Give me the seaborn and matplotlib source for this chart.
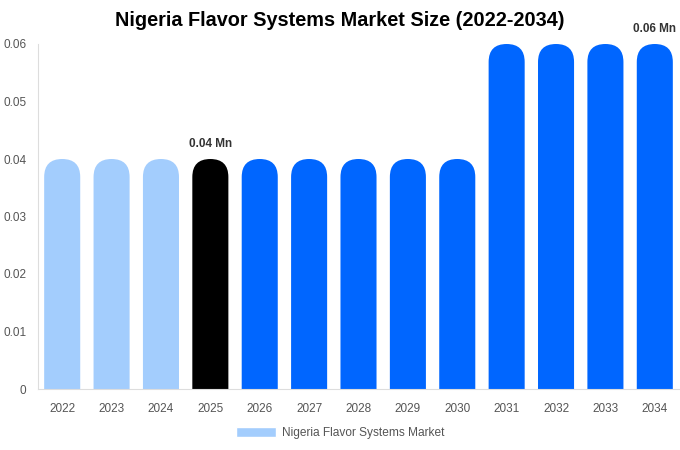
import matplotlib
matplotlib.use('Agg')
import matplotlib.pyplot as plt
import seaborn as sns
import pandas as pd
from matplotlib.patches import FancyBboxPatch, Patch

years = ['2022', '2023', '2024', '2025', '2026', '2027', '2028',
         '2029', '2030', '2031', '2032', '2033', '2034']
values = [0.04, 0.04, 0.04, 0.04, 0.04, 0.04, 0.04,
          0.04, 0.04, 0.06, 0.06, 0.06, 0.06]
bar_colors = ['#a3cdfd'] * 3 + ['#000000'] + ['#0066ff'] * 9
labels = {3: '0.04 Mn', 12: '0.06 Mn'}

df = pd.DataFrame({'year': years, 'value': values})

sns.set_style('white')
plt.rcParams['font.family'] = ['Liberation Sans', 'DejaVu Sans']

fig = plt.figure(figsize=(6.8, 4.5), dpi=100)
ax = fig.add_axes([38 / 680, 1 - 389 / 450, 641 / 680, 345 / 450])

sns.barplot(data=df, x='year', y='value', hue='year', palette=bar_colors,
            legend=False, width=0.73, saturation=1, ax=ax)

ax.set_xlim(-0.49, 12.49)
ax.set_ylim(0, 0.06)

# swap square bars for pill-topped ones
px_per_x = 641 / 13.0
px_per_y = 345 / 0.06
for p in list(ax.patches):
    x0, w, h = p.get_x(), p.get_width(), p.get_height()
    col = p.get_facecolor()
    p.remove()
    r = w / 2
    aspect = px_per_x / px_per_y
    ry = r * aspect
    fb = FancyBboxPatch((x0, -ry), w, h + ry,
                        boxstyle=f'round,pad=0,rounding_size={r}',
                        mutation_aspect=aspect, facecolor=col,
                        edgecolor='none', clip_on=True)
    ax.add_patch(fb)

for i, txt in labels.items():
    ax.text(i, values[i] + 0.0015, txt, ha='center', va='bottom',
            fontsize=8.5, fontweight='bold', color='#333333', clip_on=False)

ax.set_yticks([0, 0.01, 0.02, 0.03, 0.04, 0.05, 0.06])
ax.set_yticklabels(['0', '0.01', '0.02', '0.03', '0.04', '0.05', '0.06'])
ax.tick_params(axis='both', length=0, labelsize=8.5, labelcolor='#555555')
ax.tick_params(axis='x', pad=10)
ax.tick_params(axis='y', pad=8.5)
ax.set_xlabel('')
ax.set_ylabel('')
for s in ['top', 'right']:
    ax.spines[s].set_visible(False)
for s in ['left', 'bottom']:
    ax.spines[s].set_color('#dddddd')
    ax.spines[s].set_linewidth(0.8)

fig.text(340 / 680, 1 - 21 / 450, 'Nigeria Flavor Systems Market Size (2022-2034)',
         ha='center', va='center', fontsize=14.3, fontweight='bold', color='#000000')

fig.legend(handles=[Patch(facecolor='#a3cdfd', label='Nigeria Flavor Systems Market')],
           loc='center', bbox_to_anchor=(340 / 680, 1 - 433 / 450), frameon=False,
           fontsize=8.6, labelcolor='#555555', handlelength=3.35, handleheight=1.0,
           handletextpad=0.5)

fig.savefig('out.png', dpi=100)
